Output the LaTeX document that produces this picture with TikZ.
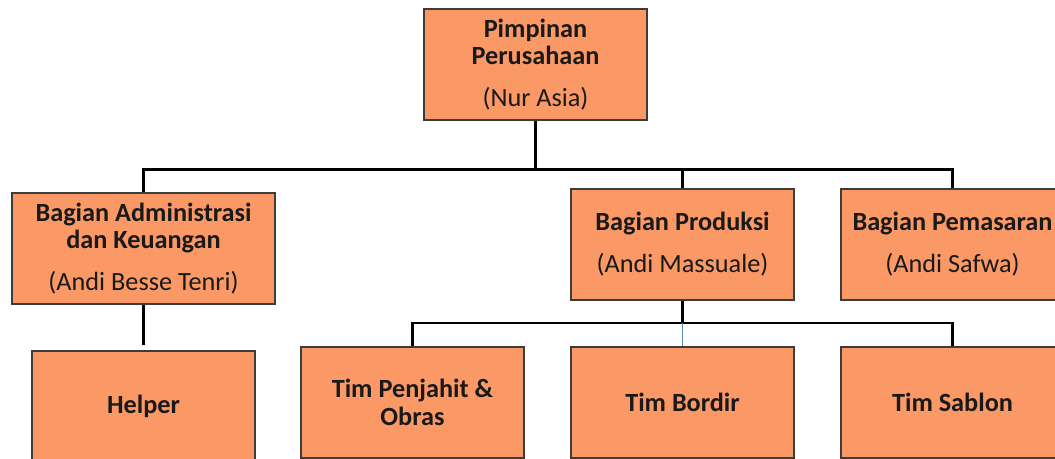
\documentclass[tikz,border=0pt]{standalone}
\usepackage{fontspec}
\setmainfont{Carlito}
\definecolor{boxfill}{RGB}{250,153,102}
\definecolor{boxline}{RGB}{60,60,60}
\definecolor{bluelink}{RGB}{84,138,190}
\begin{document}
\begin{tikzpicture}[x=0.75pt,y=-0.75pt,
  orgbox/.style={draw=boxline,line width=1.1pt,fill=boxfill,inner sep=0pt,
    minimum width=167.25pt,minimum height=83.25pt,align=center,
    font=\fontsize{19.7}{20.6}\selectfont,text=black!90},
  wide/.style={minimum width=197.25pt},
  link/.style={line width=1.9pt,black}]
\useasboundingbox (0,0) rectangle (1055,458);
\clip (0,0) rectangle (1055,458);
\node[orgbox] (top) at (535.5,64.5) {\textbf{Pimpinan}\\\textbf{Perusahaan}\\[11pt](Nur Asia)};
\node[orgbox,wide] (adm) at (143.5,248.5) {\textbf{Bagian Administrasi}\\\textbf{dan Keuangan}\\[11pt](Andi Besse Tenri)};
\node[orgbox] (prod) at (682.5,244.5) {\textbf{Bagian Produksi}\\[11pt](Andi Massuale)};
\node[orgbox] (pem) at (952.5,244.5) {\textbf{Bagian Pemasaran}\\[11pt](Andi Safwa)};
\node[orgbox] (help) at (143.5,406.5) {\textbf{Helper}};
\node[orgbox] (jahit) at (412.5,402.5) {\textbf{Tim Penjahit \&}\\\textbf{Obras}};
\node[orgbox] (bordir) at (682.5,402.5) {\textbf{Tim Bordir}};
\node[orgbox] (sablon) at (952.5,402.5) {\textbf{Tim Sablon}};
\coordinate (bus1) at (535.5,169.5);
\coordinate (bus2) at (682.5,323);
\draw[link] (top.south) -- (bus1);
\draw[link] (adm.north) |- (bus1) -| (pem.north);
\draw[link] (bus1) -| (prod.north);
\draw[link,shorten >=4pt] (adm.south) -- (help.north);
\draw[link] (prod.south) -- (bus2);
\draw[link] (jahit.north) |- (bus2) -| (sablon.north);
\draw[line width=1.3pt,bluelink] (bus2) -- (bordir.north);
\end{tikzpicture}
\end{document}
